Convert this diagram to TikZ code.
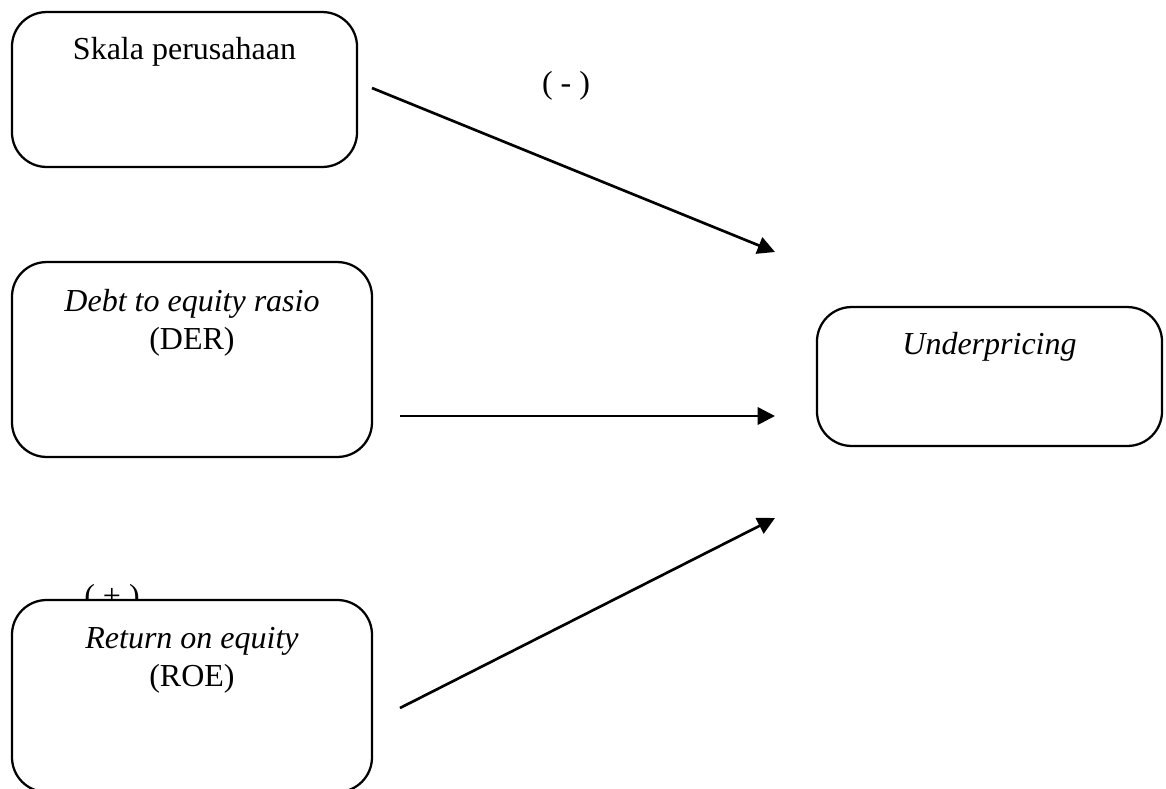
\documentclass[tikz,border=0pt]{standalone}
\usepackage{fontspec}
\setmainfont{Liberation Serif}
\usetikzlibrary{positioning, arrows.meta}

\begin{document}
\begin{tikzpicture}[x=0.375pt, y=-0.375pt,
  box/.style={draw, fill=white, rounded corners=13pt,
              line width=0.85pt, inner sep=0pt},
  txt/.style={font=\fontsize{12}{14.25}\selectfont,
              align=center, inner sep=0pt},
  arr/.style={-{Triangle[length=6.5pt, width=6.5pt]}, line width=1pt},
  sign/.style={font=\fontsize{12}{14.25}\selectfont, inner sep=0pt},
]
\useasboundingbox (0,0) rectangle (1166,788);
\clip (0,0) rectangle (1166,788);

% independent variables
\node[box, minimum width=129.4pt, minimum height=58.1pt]
  (skala) at (184.5, 89.5) {};
\node[txt, below=9.8pt of skala.north] (skalaT) {Skala perusahaan};

\node[box, minimum width=135pt, minimum height=73.1pt]
  (der) at (192, 359.5) {};
\node[txt, below=10.3pt of der.north] (derT)
  {\textit{Debt to equity rasio}\\(DER)};

\node[sign] (sgnPlus) at (112, 599) {( + )};
\node[box, minimum width=135pt, minimum height=72pt]
  (roe) at (192, 696) {};
\node[txt, below=10.3pt of roe.north] (roeT)
  {\textit{Return on equity}\\(ROE)};

% dependent variable
\node[box, minimum width=129.4pt, minimum height=52.1pt]
  (under) at (989.5, 376.5) {};
\node[txt, below=9.8pt of under.north] (underT) {\textit{Underpricing}};

% arrows
\coordinate (a1s) at (372, 88);  \coordinate (a1e) at (775, 252);
\coordinate (a2s) at (400, 416); \coordinate (a2e) at (775, 416);
\coordinate (a3s) at (400, 708); \coordinate (a3e) at (775, 518);
\draw[arr] (a1s) -- (a1e);
\draw[arr] (a2s) -- (a2e);
\draw[arr] (a3s) -- (a3e);
\node[sign] (sgnMinus) at (566, 86) {( - )};
\end{tikzpicture}
\end{document}
